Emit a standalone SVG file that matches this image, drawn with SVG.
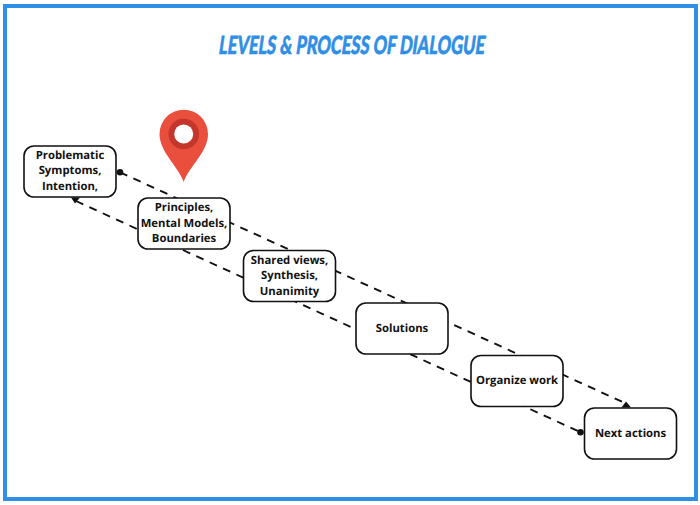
<svg xmlns="http://www.w3.org/2000/svg" width="700" height="505" viewBox="0 0 700 505">
<style>
.n{fill:#fff;stroke:#111;stroke-width:1.6}
.t{font:700 11.3px "Open Sans","Noto Sans",sans-serif;fill:#111;text-anchor:middle;text-rendering:geometricPrecision}
.c{fill:none;stroke:#111;stroke-width:1.9;stroke-dasharray:8 6.7}
</style>
<rect x="0" y="0" width="700" height="505" fill="#fff"/>
<rect x="5" y="6" width="691" height="493" fill="none" stroke="#2f8fe6" stroke-width="4"/>
<text id="title" transform="translate(218 54) skewX(-8)" textLength="266" lengthAdjust="spacingAndGlyphs" style="font:900 25px Lato,'Open Sans',sans-serif;fill:#2f8fe6;stroke:#2f8fe6;stroke-width:.6">LEVELS &amp; PROCESS OF DIALOGUE</text>
<g id="connectors">
<path class="c" d="M120 172.300L627 404"/>
<path class="c" d="M76 201L580 432"/>
<circle cx="120" cy="172.300" r="3.300" fill="#111"/>
<circle cx="580.500" cy="432.300" r="3.300" fill="#111"/>
<path d="M71 197.500L80 197.500L75 203.500Z" fill="#111"/>
<path d="M621.500 407.500L631 407.500L626 401.500Z" fill="#111"/>
</g>
<g id="pin">
<path d="M183.700 182C178 166 159.500 152 159.500 134A24.200 24.200 0 0 1 208 134C208 152 189.500 166 183.700 182Z" fill="#ea4f3e"/>
<circle cx="183.700" cy="134" r="15.300" fill="#c4352b"/>
<circle cx="183.700" cy="134" r="9.500" fill="#fff"/>
</g>
<g id="n1"><rect class="n" x="24" y="146" width="92" height="51" rx="10"/><text class="t" x="70" y="158.500">Problematic</text><text class="t" x="70" y="174">Symptoms,</text><text class="t" x="70" y="189.500">Intention,</text></g>
<g id="n2"><rect class="n" x="138" y="198" width="92" height="51" rx="10"/><text class="t" x="184" y="211">Principles,</text><text class="t" x="184" y="226.500">Mental Models,</text><text class="t" x="184" y="242">Boundaries</text></g>
<g id="n3"><rect class="n" x="243.500" y="250.500" width="92" height="51" rx="10"/><text class="t" x="289.500" y="263.500">Shared views,</text><text class="t" x="289.500" y="279">Synthesis,</text><text class="t" x="289.500" y="294.500">Unanimity</text></g>
<g id="n4"><rect class="n" x="356" y="303" width="92" height="51" rx="10"/><text class="t" x="402" y="331.500">Solutions</text></g>
<g id="n5"><rect class="n" x="471" y="355.500" width="92" height="51" rx="10"/><text class="t" x="517" y="384">Organize work</text></g>
<g id="n6"><rect class="n" x="584.500" y="408" width="92" height="51" rx="10"/><text class="t" x="630.500" y="436.500">Next actions</text></g>
</svg>
